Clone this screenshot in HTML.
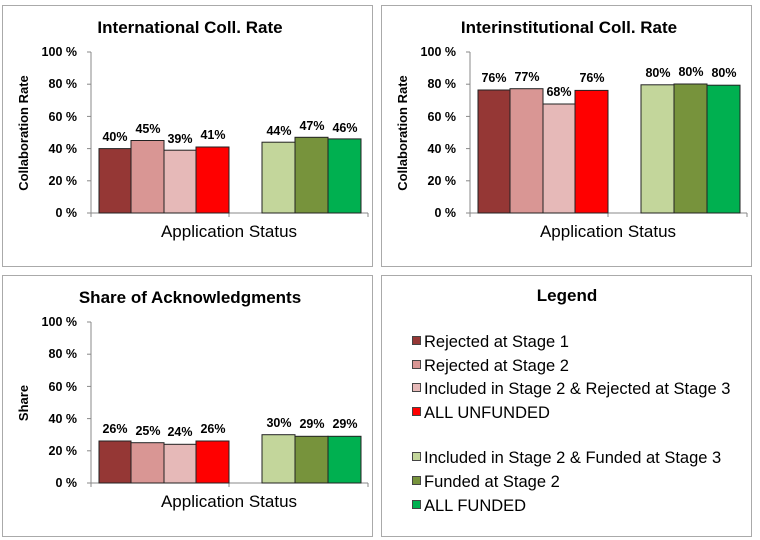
<!DOCTYPE html>
<html><head><style>body{margin:0;background:#fff}svg{display:block}</style></head><body>
<svg width="760" height="540" xmlns="http://www.w3.org/2000/svg" font-family="Liberation Sans, Arial, sans-serif">
<defs>
<g id="axes">
<line x1="91" y1="52" x2="91" y2="213" stroke="#888"/>
<line x1="91" y1="213" x2="368" y2="213" stroke="#888"/>
<g stroke="#888"><line x1="87" y1="52" x2="91" y2="52"/><line x1="87" y1="84.2" x2="91" y2="84.2"/><line x1="87" y1="116.4" x2="91" y2="116.4"/><line x1="87" y1="148.6" x2="91" y2="148.6"/><line x1="87" y1="180.8" x2="91" y2="180.8"/><line x1="87" y1="213" x2="91" y2="213"/><line x1="91" y1="213" x2="91" y2="217"/><line x1="229" y1="213" x2="229" y2="217"/><line x1="368" y1="213" x2="368" y2="217"/></g>
<g font-size="12.5" font-weight="bold" text-anchor="end" fill="#000"><text x="77" y="56">100 %</text><text x="77" y="88">80 %</text><text x="77" y="121">60 %</text><text x="77" y="153">40 %</text><text x="77" y="185">20 %</text><text x="77" y="217">0 %</text></g>
<text x="229" y="237" font-size="17" text-anchor="middle">Application Status</text>
</g>
</defs>
<rect x="2.5" y="5.5" width="370" height="261" fill="#fff" stroke="#aaa"/>
<rect x="381.5" y="5.5" width="370" height="261" fill="#fff" stroke="#aaa"/>
<rect x="2.5" y="275.5" width="370" height="261" fill="#fff" stroke="#aaa"/>
<rect x="381.5" y="275.5" width="370" height="261" fill="#fff" stroke="#aaa"/>

<g>
<text x="190" y="33" font-size="17" font-weight="bold" text-anchor="middle">International Coll. Rate</text>
<use href="#axes"/>
<text transform="translate(28,133) rotate(-90)" font-size="13" font-weight="bold" text-anchor="middle">Collaboration Rate</text>
<g stroke="#222" stroke-width="1">
<rect x="99" y="148.6" width="32" height="64.4" fill="#953735"/>
<rect x="131" y="140.5" width="33" height="72.5" fill="#D99694"/>
<rect x="164" y="150.2" width="32" height="62.8" fill="#E6B9B8"/>
<rect x="196" y="147" width="33" height="66" fill="#FF0000"/>
<rect x="262" y="142.2" width="33" height="70.8" fill="#C3D69B"/>
<rect x="295" y="137.3" width="33" height="75.7" fill="#77933C"/>
<rect x="328" y="138.9" width="33" height="74.1" fill="#00B050"/>
</g>
<g font-size="12.5" font-weight="bold" text-anchor="middle"><text x="115" y="141">40%</text><text x="148" y="133">45%</text><text x="180" y="143">39%</text><text x="213" y="139">41%</text><text x="279" y="135">44%</text><text x="312" y="130">47%</text><text x="345" y="132">46%</text></g>
</g>

<g transform="translate(379,0)">
<text x="190" y="33" font-size="17" font-weight="bold" text-anchor="middle">Interinstitutional Coll. Rate</text>
<use href="#axes"/>
<text transform="translate(28,133) rotate(-90)" font-size="13" font-weight="bold" text-anchor="middle">Collaboration Rate</text>
<g stroke="#222" stroke-width="1">
<rect x="99" y="90" width="32" height="123" fill="#953735"/>
<rect x="131" y="88.7" width="33" height="124.3" fill="#D99694"/>
<rect x="164" y="104" width="32" height="109" fill="#E6B9B8"/>
<rect x="196" y="90.4" width="33" height="122.6" fill="#FF0000"/>
<rect x="262" y="84.8" width="33" height="128.2" fill="#C3D69B"/>
<rect x="295" y="84" width="33" height="129" fill="#77933C"/>
<rect x="328" y="85.2" width="33" height="127.8" fill="#00B050"/>
</g>
<g font-size="12.5" font-weight="bold" text-anchor="middle"><text x="115" y="82">76%</text><text x="148" y="81">77%</text><text x="180" y="96">68%</text><text x="213" y="82">76%</text><text x="279" y="77">80%</text><text x="312" y="76">80%</text><text x="345" y="77">80%</text></g>
</g>

<g transform="translate(0,270)">
<text x="190" y="33" font-size="17" font-weight="bold" text-anchor="middle">Share of Acknowledgments</text>
<use href="#axes"/>
<text transform="translate(28,133) rotate(-90)" font-size="13" font-weight="bold" text-anchor="middle">Share</text>
<g stroke="#222" stroke-width="1">
<rect x="99" y="171" width="32" height="42" fill="#953735"/>
<rect x="131" y="172.7" width="33" height="40.3" fill="#D99694"/>
<rect x="164" y="174.3" width="32" height="38.7" fill="#E6B9B8"/>
<rect x="196" y="171" width="33" height="42" fill="#FF0000"/>
<rect x="262" y="164.7" width="33" height="48.3" fill="#C3D69B"/>
<rect x="295" y="166.3" width="33" height="46.7" fill="#77933C"/>
<rect x="328" y="166.3" width="33" height="46.7" fill="#00B050"/>
</g>
<g font-size="12.5" font-weight="bold" text-anchor="middle"><text x="115" y="163">26%</text><text x="148" y="165">25%</text><text x="180" y="166">24%</text><text x="213" y="163">26%</text><text x="279" y="157">30%</text><text x="312" y="158">29%</text><text x="345" y="158">29%</text></g>
</g>

<g>
<text x="567" y="301" font-size="17" font-weight="bold" text-anchor="middle">Legend</text>
<g stroke="#444" stroke-width="1">
<rect x="412.5" y="336.5" width="8" height="8" fill="#953735"/>
<rect x="412.5" y="360.5" width="8" height="8" fill="#D99694"/>
<rect x="412.5" y="383.5" width="8" height="8" fill="#E6B9B8"/>
<rect x="412.5" y="407.5" width="8" height="8" fill="#FF0000"/>
<rect x="412.5" y="452.5" width="8" height="8" fill="#C3D69B"/>
<rect x="412.5" y="476.5" width="8" height="8" fill="#77933C"/>
<rect x="412.5" y="500.5" width="8" height="8" fill="#00B050"/>
</g>
<g font-size="16.5"><text x="424" y="347">Rejected at Stage 1</text><text x="424" y="371">Rejected at Stage 2</text><text x="424" y="394">Included in Stage 2 &amp; Rejected at Stage 3</text><text x="424" y="418">ALL UNFUNDED</text><text x="424" y="463">Included in Stage 2 &amp; Funded at Stage 3</text><text x="424" y="487">Funded at Stage 2</text><text x="424" y="511">ALL FUNDED</text></g>
</g>
</svg>
</body></html>
